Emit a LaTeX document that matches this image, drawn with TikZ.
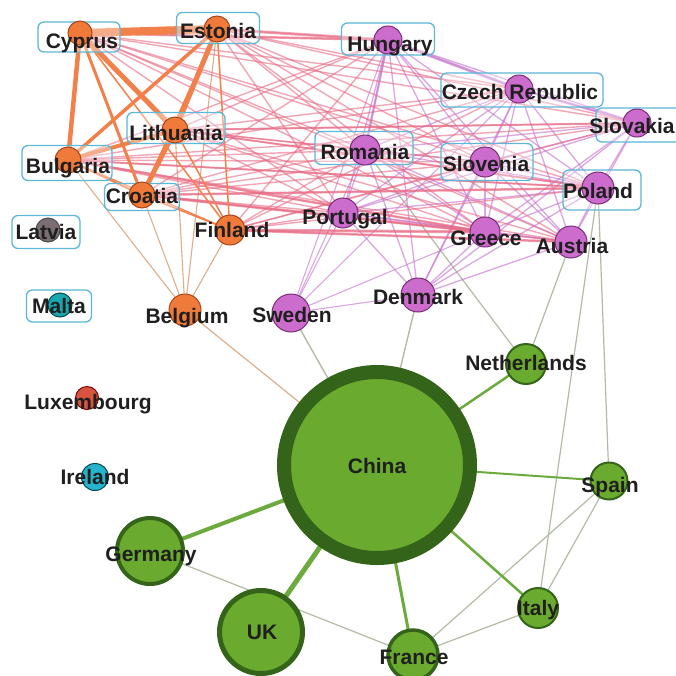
\documentclass[tikz,border=0pt]{standalone}
\usepackage{fontspec}
\setmainfont{Liberation Sans}
\definecolor{orF}{HTML}{F07A3A}
\definecolor{orD}{HTML}{A8461A}
\definecolor{orE}{HTML}{F2804A}
\definecolor{pkE}{HTML}{E86A84}
\definecolor{puF}{HTML}{CC6CCC}
\definecolor{puD}{HTML}{7A2E7A}
\definecolor{puE}{HTML}{C878D0}
\definecolor{grF}{HTML}{6AAA2E}
\definecolor{grD}{HTML}{34641A}
\definecolor{grE}{HTML}{6CAA3E}
\definecolor{gyE}{HTML}{B2BBA6}
\definecolor{bxC}{HTML}{5CB8D8}
\definecolor{laF}{HTML}{7A6E74}
\definecolor{maF}{HTML}{1AA8B0}
\definecolor{irF}{HTML}{26B4CC}
\definecolor{luF}{HTML}{D8543E}
\begin{document}
\begin{tikzpicture}[x=1pt,y=-1pt,
  oe/.style={draw=orE,line width=#1,line cap=round},
  pk/.style={draw=pkE,line width=#1,draw opacity=0.6},
  pu/.style={draw=puE,line width=#1,draw opacity=0.65},
  ge/.style={draw=grE,line width=#1},
  gy/.style={draw=gyE,line width=#1},
  bge/.style={draw=orE!55!gyE,line width=#1,draw opacity=0.8},
  bx/.style={draw=bxC,line width=1.3pt,rounded corners=6pt,fill=white,fill opacity=0.35,inner sep=0pt},
  dot/.style={circle,inner sep=0pt,minimum size=#1},
  onode/.style={dot=#1,fill=orF,draw=orD,line width=1pt},
  pnode/.style={dot=#1,fill=puF,draw=puD,line width=1pt},
  gnode/.style={dot=#1,fill=grF,draw=grD},
  lab/.style={font=\fontsize{21}{21}\selectfont\bfseries,text=black!88,inner sep=0pt,anchor=base}]
\useasboundingbox[fill=white] (0,0) rectangle (676,675);
% centres
\coordinate (cy) at (80,33);
\coordinate (es) at (217,29);
\coordinate (li) at (175,130);
\coordinate (bu) at (68,160);
\coordinate (cr) at (142,195);
\coordinate (fi) at (230,230);
\coordinate (be) at (185,310);
\coordinate (la) at (48,230);
\coordinate (ma) at (60,305);
\coordinate (lu) at (87,398);
\coordinate (ir) at (95,477);
\coordinate (hu) at (388,40);
\coordinate (cz) at (519,89);
\coordinate (sk) at (637,123);
\coordinate (ro) at (365,150);
\coordinate (sn) at (485,162);
\coordinate (po) at (598,188);
\coordinate (pt) at (343,213);
\coordinate (gr) at (485,232);
\coordinate (au) at (571,242);
\coordinate (de) at (418,295);
\coordinate (sw) at (291,313);
\coordinate (ne) at (526,364);
\coordinate (sp) at (609,481);
\coordinate (it) at (538,608);
\coordinate (fr) at (413,655);
\coordinate (uk) at (261,632);
\coordinate (gm) at (150,551);
\coordinate (ch) at (377,465);
% lower edges
\draw[gy=1.2] (ro) -- (ne);
\draw[gy=1.2] (au) -- (ne);
\draw[gy=1.2] (po) -- (sp);
\draw[gy=1.2] (po) -- (it);
\draw[gy=1.4] (sw) -- (ch);
\draw[gy=1.4] (de) -- (ch);
\draw[bge=1.2] (be) -- (ch);
\draw[gy=1.2] (gm) -- (fr);
\draw[gy=1.2] (sp) -- (fr);
\draw[gy=1.2] (it) -- (fr);
\draw[gy=1.2] (sp) -- (it);
\draw[ge=4] (ch) -- (gm);
\draw[ge=5] (ch) -- (uk);
\draw[ge=3] (ch) -- (fr);
\draw[ge=2.5] (ch) -- (it);
\draw[ge=2] (ch) -- (sp);
\draw[ge=2.5] (ch) -- (ne);
% Belgium edges
\foreach \a in {bu,cr,li,es,fi} \draw[bge=1.1] (be) -- (\a);
% Sweden edges
\foreach \a in {hu,ro,pt,gr,de,cz} \draw[pu=1.1] (sw) -- (\a);
% purple complete
\foreach \a [count=\i] in {hu,cz,sk,ro,sn,po,pt,gr,au,de}
  \foreach \b [count=\j] in {hu,cz,sk,ro,sn,po,pt,gr,au,de}
    {\ifnum\j>\i \draw[pu=1.3] (\a) -- (\b);\fi}
\draw[pu=3] (hu) -- (cz);
\draw[pu=2.5] (cz) -- (sk);
\draw[pu=2.2] (hu) -- (ro);
% pink orange-purple
\foreach \a in {cy,es,li,bu,cr,fi}
  \foreach \b in {hu,cz,sk,ro,sn,po,pt,gr,au}
    \draw[pk=1.4] (\a) -- (\b);
\draw[pk=3] (es) -- (hu);
\draw[pk=2.5] (cy) -- (hu);
\draw[pk=3] (cr) -- (gr);
\draw[pk=2.5] (bu) -- (gr);
\draw[pk=3] (fi) -- (gr);
\draw[pk=2.5] (fi) -- (au);
\draw[pk=2.5] (cr) -- (po);
\draw[pk=2] (li) -- (po);
\draw[pk=2] (bu) -- (po);
\draw[pk=2] (li) -- (sk);
% orange edges
\draw[oe=8] (cy) -- (es);
\draw[oe=4.5] (cy) -- (bu);
\draw[oe=5] (cy) -- (li);
\draw[oe=3] (cy) -- (cr);
\draw[oe=3.5] (es) -- (bu);
\draw[oe=5] (es) -- (li);
\draw[oe=5] (li) -- (cr);
\draw[oe=4] (bu) -- (li);
\draw[oe=2] (bu) -- (cr);
\draw[oe=1.5] (es) -- (cr);
\draw[oe=1.5] (es) -- (fi);
\draw[oe=1.5] (cy) -- (fi);
\draw[oe=1.5] (li) -- (fi);
\draw[oe=1.5] (cr) -- (fi);
\draw[oe=1.2] (bu) -- (fi);
% label boxes
\node[bx,minimum width=82pt,minimum height=30pt] (cyB) at (79,37) {};
\node[bx,minimum width=83pt,minimum height=31pt] (esB) at (218,28) {};
\node[bx,minimum width=98pt,minimum height=31pt] (liB) at (176,128) {};
\node[bx,minimum width=90pt,minimum height=35pt] (buB) at (67,163) {};
\node[bx,minimum width=75pt,minimum height=27pt] (crB) at (142,197) {};
\node[bx,minimum width=68pt,minimum height=33pt] (laB) at (46,232) {};
\node[bx,minimum width=65pt,minimum height=32pt] (maB) at (59,306) {};
\node[bx,minimum width=93pt,minimum height=32pt] (huB) at (388,39) {};
\node[bx,minimum width=162pt,minimum height=34pt] (czB) at (522,90) {};
\node[bx,minimum width=88pt,minimum height=34pt] (skB) at (640,125) {};
\node[bx,minimum width=98pt,minimum height=33pt] (roB) at (364,148) {};
\node[bx,minimum width=92pt,minimum height=37pt] (snB) at (487,162) {};
\node[bx,minimum width=78pt,minimum height=40pt] (poB) at (602,190) {};
% circles
\node[onode=24pt] (cyN) at (cy) {};
\node[onode=26pt] (esN) at (es) {};
\node[onode=26pt] (liN) at (li) {};
\node[onode=26pt] (buN) at (bu) {};
\node[onode=26pt] (crN) at (cr) {};
\node[onode=30pt] (fiN) at (fi) {};
\node[onode=32pt] (beN) at (be) {};
\node[dot=24pt,fill=laF,draw=black!70,line width=1pt] (laN) at (la) {};
\node[dot=24pt,fill=maF,draw=teal!60!black,line width=1pt] (maN) at (ma) {};
\node[dot=23pt,fill=luF,draw=red!50!black,line width=1pt] (luN) at (lu) {};
\node[dot=27pt,fill=irF,draw=teal!60!black,line width=1pt] (irN) at (ir) {};
\node[pnode=28pt] (huN) at (hu) {};
\node[pnode=28pt] (czN) at (cz) {};
\node[pnode=28pt] (skN) at (sk) {};
\node[pnode=30pt] (roN) at (ro) {};
\node[pnode=30pt] (snN) at (sn) {};
\node[pnode=32pt] (poN) at (po) {};
\node[pnode=30pt] (ptN) at (pt) {};
\node[pnode=30pt] (grN) at (gr) {};
\node[pnode=32pt] (auN) at (au) {};
\node[pnode=34pt] (deN) at (de) {};
\node[pnode=38pt] (swN) at (sw) {};
\node[gnode=40pt,line width=2pt] (neN) at (ne) {};
\node[gnode=37pt,line width=2pt] (spN) at (sp) {};
\node[gnode=40pt,line width=2pt] (itN) at (it) {};
\node[gnode=50pt,line width=3.5pt] (frN) at (fr) {};
\node[gnode=83pt,line width=5pt] (ukN) at (uk) {};
\node[gnode=66pt,line width=4pt] (gmN) at (gm) {};
\node[gnode=186pt,line width=14pt] (chN) at (ch) {};
% labels
\node[lab] (cyT) at (82,48) {Cyprus};
\node[lab] (esT) at (218,38) {Estonia};
\node[lab] (liT) at (176,140) {Lithuania};
\node[lab] (buT) at (68,173) {Bulgaria};
\node[lab] (crT) at (142,203) {Croatia};
\node[lab] (fiT) at (232,237) {Finland};
\node[lab] (beT) at (187,323) {Belgium};
\node[lab] (laT) at (46,239) {Latvia};
\node[lab] (maT) at (59,313) {Malta};
\node[lab] (luT) at (88,409) {Luxembourg};
\node[lab] (irT) at (95,484) {Ireland};
\node[lab] (huT) at (390,51) {Hungary};
\node[lab] (czT) at (520,99) {Czech Republic};
\node[lab] (skT) at (632,133) {Slovakia};
\node[lab] (roT) at (365,159) {Romania};
\node[lab] (snT) at (486,171) {Slovenia};
\node[lab] (poT) at (598,198) {Poland};
\node[lab] (ptT) at (345,224) {Portugal};
\node[lab] (grT) at (486,245) {Greece};
\node[lab] (auT) at (572,253) {Austria};
\node[lab] (deT) at (418,304) {Denmark};
\node[lab] (swT) at (292,322) {Sweden};
\node[lab] (neT) at (526,370) {Netherlands};
\node[lab] (spT) at (610,492) {Spain};
\node[lab] (itT) at (538,615) {Italy};
\node[lab] (frT) at (414,664) {France};
\node[lab] (ukT) at (262,639) {UK};
\node[lab] (gmT) at (151,561) {Germany};
\node[lab] (chT) at (377,473) {China};
\end{tikzpicture}
\end{document}
